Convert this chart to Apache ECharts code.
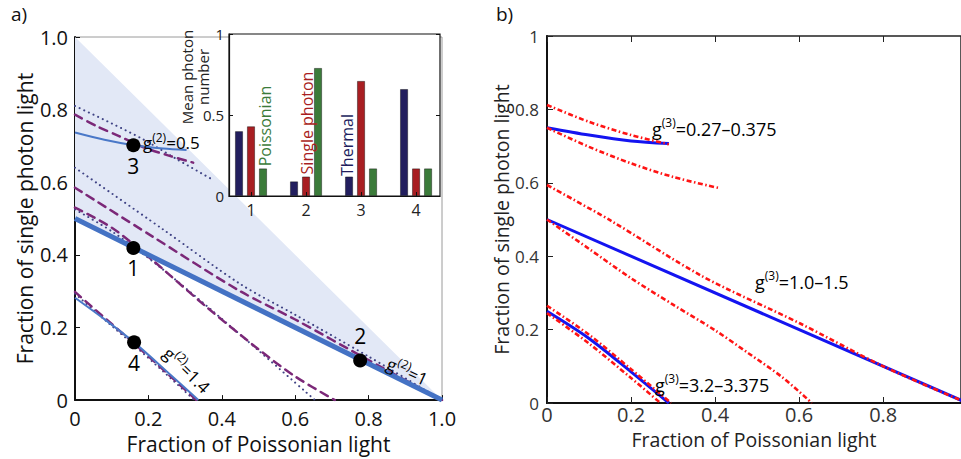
<!DOCTYPE html>
<html><head><meta charset="utf-8">
<script src="https://cdn.jsdelivr.net/npm/echarts@6/dist/echarts.min.js"></script>
<style>html,body{margin:0;padding:0;background:#fff}#c{width:961px;height:459px}</style>
</head><body><div id="c"></div>
<script>
// ---------- Panel a: fraction data ----------
const shadeRegion = [[0, 1], [1, 0], [0, 0.5]];
const g2one_thick = [[0, 0.5], [1, 0]];
const g2half_solid = [[0, 0.737], [0.08, 0.717], [0.16, 0.702], [0.24, 0.693], [0.304, 0.689]];
const g2half_dashed = [[0, 0.786], [0.06, 0.754], [0.12, 0.727], [0.19, 0.695], [0.26, 0.672], [0.322, 0.654]];
const g2half_dotted = [[0, 0.81], [0.1, 0.762], [0.186, 0.718], [0.28, 0.662], [0.377, 0.606]];
const g2one_dottedUp = [[0, 0.64], [0.24, 0.47], [0.45, 0.32], [0.6, 0.235], [0.8, 0.12], [1, 0]];
const g2one_dashedUp = [[0, 0.585], [0.204, 0.455], [0.45, 0.3], [0.6, 0.222], [0.8, 0.11], [1, 0]];
const g2one_dashedLow = [[0, 0.53], [0.1, 0.475], [0.2, 0.395], [0.36, 0.255], [0.5, 0.14], [0.6, 0.065], [0.708, 0]];
const g2one_dottedLow = [[0, 0.525], [0.1, 0.465], [0.232, 0.366], [0.431, 0.197], [0.654, 0]];
const g2high_solid = [[0, 0.282], [0.08, 0.223], [0.161, 0.159], [0.25, 0.079], [0.336, 0]];
const g2high_dashed = [[0, 0.298], [0.08, 0.227], [0.16, 0.157], [0.25, 0.075], [0.331, 0]];
const g2high_dotted = [[0, 0.293], [0.08, 0.222], [0.16, 0.152], [0.25, 0.07], [0.325, 0]];
const statePoints = [[0.159, 0.419], [0.777, 0.109], [0.159, 0.702], [0.161, 0.159]];
const stateNames = ['1', '2', '3', '4'];

// ---------- Inset: mean photon number ----------
const insetCategories = [1, 2, 3, 4];
const thermalMean = [0.40, 0.09, 0.12, 0.66];
const singleMean = [0.43, 0.12, 0.71, 0.17];
const poissonMean = [0.17, 0.79, 0.17, 0.17];

// ---------- Panel b ----------
const b_top_blue = [[0, 0.75], [0.1, 0.73], [0.2, 0.714], [0.29, 0.707]];
const b_top_redA = [[0, 0.812], [0.1, 0.766], [0.2, 0.73], [0.29, 0.705]];
const b_top_redB = [[0, 0.75], [0.1, 0.698], [0.2, 0.653], [0.3, 0.616], [0.412, 0.585]];
const b_mid_blue = [[0, 0.5], [1, 0]];
const b_mid_redA = [[0, 0.594], [0.15, 0.498], [0.37, 0.345], [0.6, 0.218], [0.8, 0.1], [1, 0]];
const b_mid_redB = [[0, 0.5], [0.1, 0.42], [0.2, 0.34], [0.3, 0.268], [0.4, 0.198], [0.48, 0.135], [0.56, 0.07], [0.63, 0]];
const b_low_blue = [[0, 0.25], [0.1, 0.176], [0.2, 0.085], [0.29, 0]];
const b_low_redA = [[0, 0.265], [0.1, 0.186], [0.2, 0.092], [0.295, 0]];
const b_low_redB = [[0, 0.245], [0.1, 0.162], [0.2, 0.068], [0.27, 0]];

const FONT = 'Open Sans';
const chart = echarts.init(document.getElementById('c'), null, {renderer: 'svg'});

function lineA(data, color, width, type, z) {
  return {type: 'line', xAxisIndex: 0, yAxisIndex: 0, data, smooth: 0.3, symbol: 'none', silent: true, z: z || 2,
    lineStyle: {color, width, type, cap: type === 'solid' ? 'butt' : 'round'}};
}
function lineB(data, color, width, type) {
  return {type: 'line', xAxisIndex: 2, yAxisIndex: 2, data, smooth: 0.3, symbol: 'none', silent: true,
    lineStyle: {color, width, type}};
}
const DOT = [0.1, 5], DASH = [8, 6], DASHDOT = [5, 2.5, 1.5, 2.5];
const cDot = '#3f4385', cDash = '#7b2878', cThin = '#4a78c8', cThick = '#4472c4';
const cBlue = '#1414f0', cRed = '#ff1414';

const richA = {
  g: {fontSize: 17, color: '#888', fontFamily: FONT, lineHeight: 20, verticalAlign: 'bottom'},
  s: {fontSize: 12, color: '#222', fontFamily: FONT, lineHeight: 12, verticalAlign: 'top'},
  t: {fontSize: 17, color: '#222', fontFamily: FONT, lineHeight: 20, verticalAlign: 'bottom'}
};
const richB = {
  g: {fontSize: 18, color: '#222', fontFamily: FONT, lineHeight: 22, verticalAlign: 'bottom'},
  s: {fontSize: 12, color: '#222', fontFamily: FONT, lineHeight: 12, verticalAlign: 'top'},
  t: {fontSize: 18, color: '#222', fontFamily: FONT, lineHeight: 22, verticalAlign: 'bottom'}
};

const option = {
  animation: false,
  textStyle: {fontFamily: FONT},
  grid: [
    {left: 75, top: 37, width: 367, height: 365, show: true, borderColor: '#9a9a9a', borderWidth: 1, backgroundColor: 'transparent'},
    {left: 229, top: 34, width: 211, height: 162, show: true, borderColor: '#111', borderWidth: 1.2, backgroundColor: '#fff', z: 5},
    {left: 547, top: 36, right: 0, height: 367, show: true, borderColor: '#222', borderWidth: 1.5, backgroundColor: 'transparent'}
  ],
  xAxis: [
    {gridIndex: 0, type: 'value', min: 0, max: 1, interval: 0.2,
      axisLine: {lineStyle: {color: '#111', width: 2}}, axisTick: {inside: true, length: 5, lineStyle: {color: '#111'}},
      axisLabel: {fontSize: 20, color: '#111', margin: 8, formatter: v => v === 0 ? '0' : v.toFixed(1)},
      splitLine: {show: false},
      name: 'Fraction of Poissonian light', nameLocation: 'middle', nameGap: 32,
      nameTextStyle: {fontSize: 21, color: '#111', fontFamily: FONT}},
    {gridIndex: 1, type: 'value', min: 0.6, max: 4.435, z: 6,
      axisLine: {lineStyle: {color: '#111', width: 1.2}},
      axisTick: {inside: true, length: 4, customValues: insetCategories, lineStyle: {color: '#111'}},
      axisLabel: {fontSize: 16, color: '#222', margin: 6, customValues: insetCategories},
      splitLine: {show: false}},
    {gridIndex: 2, type: 'value', min: 0, max: 0.985, interval: 0.2,
      axisLine: {lineStyle: {color: '#111', width: 2}}, axisTick: {inside: true, length: 6, lineStyle: {color: '#222'}},
      axisLabel: {fontSize: 20, color: '#333', margin: 1, showMaxLabel: false},
      splitLine: {show: false},
      name: 'Fraction of Poissonian light', nameLocation: 'middle', nameGap: 26,
      nameTextStyle: {fontSize: 19.5, color: '#222', fontFamily: FONT}},
    {gridIndex: 2, type: 'value', position: 'top', min: 0, max: 0.985, interval: 0.2,
      axisLine: {show: false}, axisTick: {inside: true, length: 6, lineStyle: {color: '#222'}},
      axisLabel: {show: false}, splitLine: {show: false}}
  ],
  yAxis: [
    {gridIndex: 0, type: 'value', min: 0, max: 1, interval: 0.2,
      axisLine: {lineStyle: {color: '#111', width: 2}}, axisTick: {inside: true, length: 5, lineStyle: {color: '#111'}},
      axisLabel: {fontSize: 20, color: '#111', margin: 7, formatter: v => v === 0 ? '0' : v.toFixed(1)},
      splitLine: {show: false},
      name: 'Fraction of single photon light', nameLocation: 'middle', nameGap: 40, nameRotate: 90,
      nameTextStyle: {fontSize: 21, color: '#111', fontFamily: FONT}},
    {gridIndex: 1, type: 'value', min: 0, max: 1, interval: 0.5, z: 6,
      axisLine: {lineStyle: {color: '#111', width: 1.2}},
      axisTick: {inside: true, length: 4, lineStyle: {color: '#111'}},
      axisLabel: {fontSize: 15, color: '#222', margin: 5, formatter: v => String(v)},
      splitLine: {show: false}},
    {gridIndex: 2, type: 'value', min: 0, max: 1, interval: 0.2,
      axisLine: {lineStyle: {color: '#111', width: 2}}, axisTick: {inside: true, length: 6, lineStyle: {color: '#222'}},
      axisLabel: {fontSize: 17, color: '#333', margin: 8},
      splitLine: {show: false},
      name: 'Fraction of single photon light', nameLocation: 'middle', nameGap: 36, nameRotate: 90,
      nameTextStyle: {fontSize: 19.5, color: '#222', fontFamily: FONT}},
    {gridIndex: 1, type: 'value', position: 'right', min: 0, max: 1, interval: 0.5, z: 6,
      axisLine: {show: false}, axisTick: {inside: true, length: 4, lineStyle: {color: '#111'}},
      axisLabel: {show: false}, splitLine: {show: false}}
  ],
  series: [
    {type: 'custom', xAxisIndex: 0, yAxisIndex: 0, z: 1, silent: true, data: [[0, 0]],
      renderItem: (params, api) => ({type: 'polygon', shape: {points: shadeRegion.map(p => api.coord(p))},
        style: {fill: '#e2e8f6'}})},
    lineA(g2half_dotted, cDot, 2, DOT),
    lineA(g2half_dashed, cDash, 2.5, DASH),
    lineA(g2half_solid, cThin, 2, 'solid'),
    lineA(g2one_dottedUp, cDot, 2, DOT),
    lineA(g2one_dashedUp, cDash, 2.5, DASH),
    lineA(g2one_dottedLow, cDot, 2, DOT),
    lineA(g2one_dashedLow, cDash, 2.5, DASH),
    lineA(g2one_thick, cThick, 5, 'solid', 3),
    lineA(g2high_dotted, cDot, 2, DOT),
    lineA(g2high_dashed, cDash, 2.5, DASH),
    lineA(g2high_solid, cThin, 2, 'solid', 3),
    {type: 'scatter', xAxisIndex: 0, yAxisIndex: 0, z: 4, silent: true, symbolSize: 14,
      itemStyle: {color: '#000', opacity: 1},
      data: statePoints.map((p, i) => ({value: p, name: stateNames[i],
        label: {show: true, formatter: '{b}', position: i === 1 ? 'top' : 'bottom', distance: i === 1 ? 7 : 3,
          fontSize: 21, color: '#000', opacity: 1, fontFamily: FONT}}))},
    {type: 'bar', xAxisIndex: 1, yAxisIndex: 1, z: 6, name: 'Thermal', barWidth: 8, barGap: '50%',
      itemStyle: {color: '#221e5e', borderColor: 'rgba(0,0,0,0.5)', borderWidth: 0.8},
      data: thermalMean.map((v, i) => [insetCategories[i], v])},
    {type: 'bar', xAxisIndex: 1, yAxisIndex: 1, z: 6, name: 'Single photon', barWidth: 8, barGap: '50%',
      itemStyle: {color: '#a81e22', borderColor: 'rgba(0,0,0,0.5)', borderWidth: 0.8},
      data: singleMean.map((v, i) => [insetCategories[i], v])},
    {type: 'bar', xAxisIndex: 1, yAxisIndex: 1, z: 6, name: 'Poissonian', barWidth: 8, barGap: '50%',
      itemStyle: {color: '#3b7b3a', borderColor: 'rgba(0,0,0,0.5)', borderWidth: 0.8},
      data: poissonMean.map((v, i) => [insetCategories[i], v])},
    lineB(b_top_blue, cBlue, 3, 'solid'),
    lineB(b_mid_blue, cBlue, 3, 'solid'),
    lineB(b_low_blue, cBlue, 3, 'solid'),
    lineB(b_top_redA, cRed, 2.6, DASHDOT),
    lineB(b_top_redB, cRed, 2.6, DASHDOT),
    lineB(b_mid_redA, cRed, 2.6, DASHDOT),
    lineB(b_mid_redB, cRed, 2.6, DASHDOT),
    lineB(b_low_redA, cRed, 2.6, DASHDOT),
    lineB(b_low_redB, cRed, 2.6, DASHDOT)
  ],
  graphic: [
    {type: 'text', left: 11, top: 4, style: {text: 'a)', fontSize: 19, fill: '#111', fontFamily: FONT}},
    {type: 'text', left: 496, top: 4, style: {text: 'b)', fontSize: 19, fill: '#111', fontFamily: FONT}},
    {type: 'text', x: 195, y: 77, rotation: Math.PI / 2, z: 10,
      style: {text: 'Mean photon\nnumber', fontSize: 15, lineHeight: 16, fill: '#222', fontFamily: FONT, align: 'center', verticalAlign: 'middle'}},
    {type: 'text', x: 265, y: 126, rotation: Math.PI / 2, z: 10,
      style: {text: 'Poissonian', fontSize: 16, fill: '#3b7b3a', fontFamily: FONT, align: 'center', verticalAlign: 'middle'}},
    {type: 'text', x: 307, y: 123, rotation: Math.PI / 2, z: 10,
      style: {text: 'Single photon', fontSize: 16, fill: '#a81e22', fontFamily: FONT, align: 'center', verticalAlign: 'middle'}},
    {type: 'text', x: 347, y: 145, rotation: Math.PI / 2, z: 10,
      style: {text: 'Thermal', fontSize: 16, fill: '#221e5e', fontFamily: FONT, align: 'center', verticalAlign: 'middle'}},
    {type: 'text', x: 143, y: 141, z: 10,
      style: {text: '{g|g}{s|(2)}{t|=0.5}', rich: richA, align: 'left', verticalAlign: 'middle'}},
    {type: 'text', x: 408, y: 370, rotation: -0.43, z: 10,
      style: {text: '{g|g}{s|(2)}{t|=1}', rich: richA, align: 'center', verticalAlign: 'middle'}},
    {type: 'text', x: 188, y: 369, rotation: -0.77, z: 10,
      style: {text: '{g|g}{s|(2)}{t|=1.4}', rich: richA, align: 'center', verticalAlign: 'middle'}},
    {type: 'text', x: 652, y: 127, z: 10,
      style: {text: '{g|g}{s|(3)}{t|=0.27\u20130.375}', rich: richB, align: 'left', verticalAlign: 'middle'}},
    {type: 'text', x: 755, y: 280, z: 10,
      style: {text: '{g|g}{s|(3)}{t|=1.0\u20131.5}', rich: richB, align: 'left', verticalAlign: 'middle'}},
    {type: 'text', x: 655, y: 383, z: 10,
      style: {text: '{g|g}{s|(3)}{t|=3.2\u20133.375}', rich: richB, align: 'left', verticalAlign: 'middle'}}
  ]
};
chart.setOption(option);
</script>
</body></html>
